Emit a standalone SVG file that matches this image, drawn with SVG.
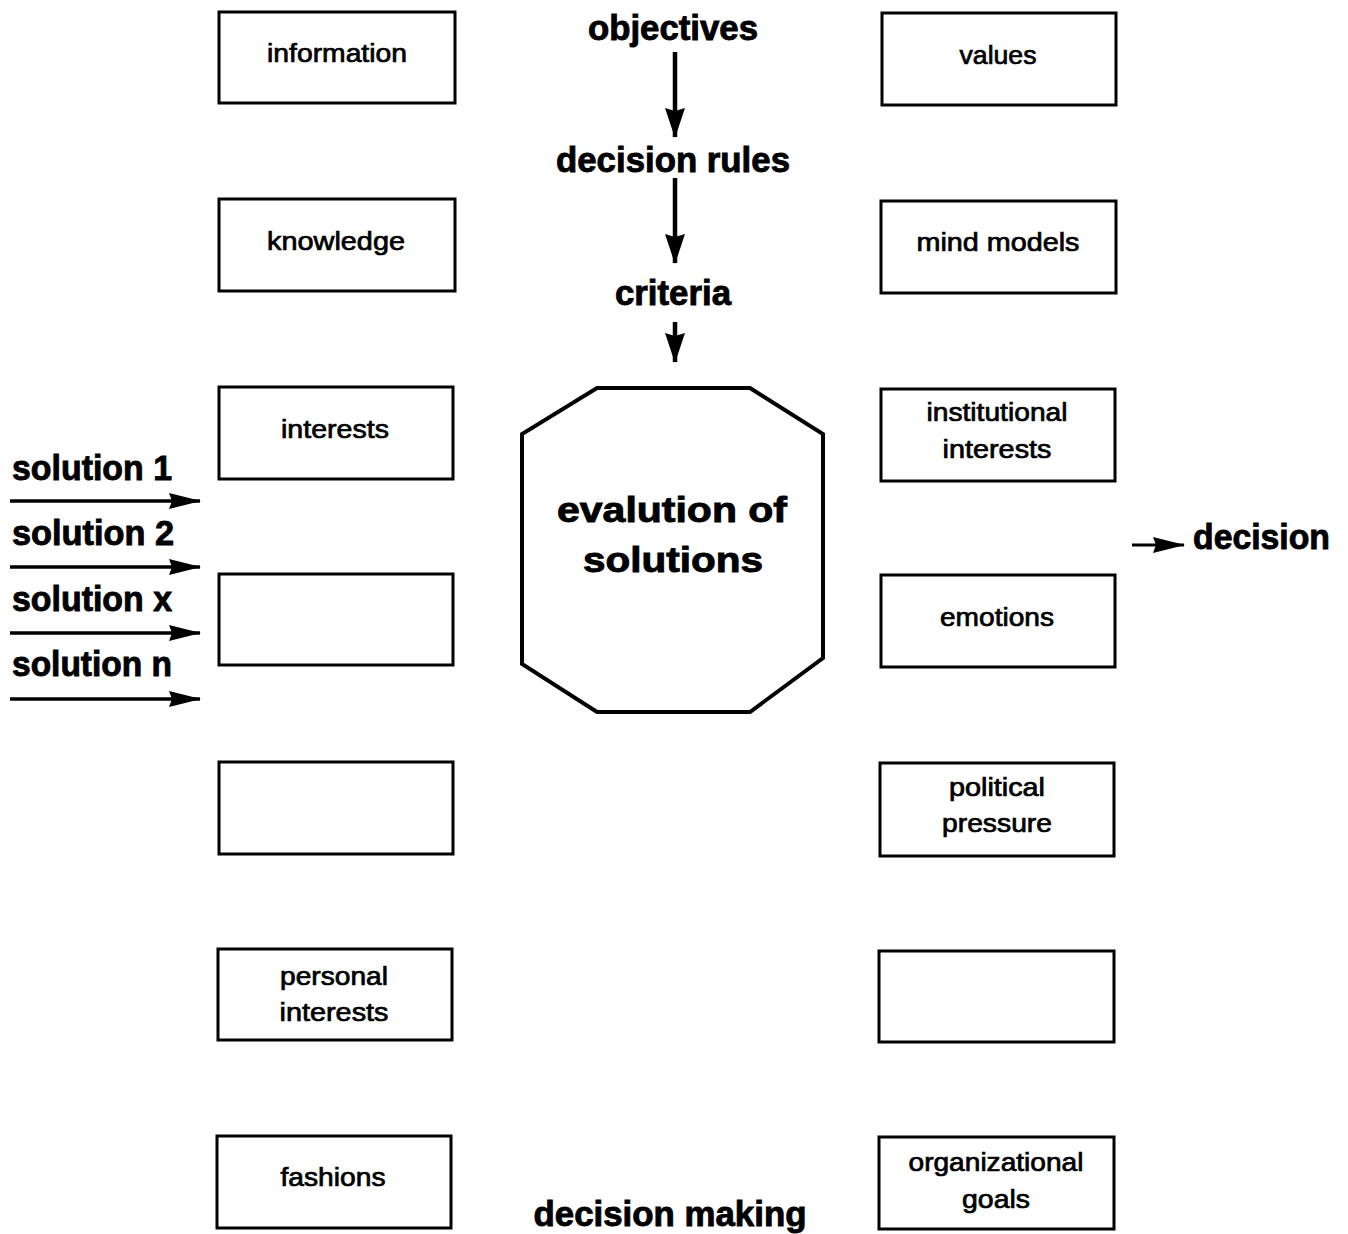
<svg xmlns="http://www.w3.org/2000/svg" width="1348" height="1234" viewBox="0 0 1348 1234">
  <style>
    .box { fill: #fff; stroke: #000; stroke-width: 3; }
    .lbl { font-family: "Liberation Sans", Arial, sans-serif; font-size: 25px; fill: #000; stroke: #000; stroke-width: 0.7; text-anchor: middle; }
    .big { font-family: "Liberation Sans", Arial, sans-serif; font-weight: bold; font-size: 35px; fill: #000; stroke: #000; stroke-width: 0.9; }
    .mid { text-anchor: middle; }
    .wire { fill: none; stroke: #000; }
  </style>
  <defs>
    <marker id="headBig" markerUnits="userSpaceOnUse" viewBox="0 0 30 22" markerWidth="30" markerHeight="22" refX="29" refY="11" orient="auto">
      <path d="M0,1 L30,11 L0,21 L3,11 z" fill="#000"/>
    </marker>
    <marker id="headSmall" markerUnits="userSpaceOnUse" viewBox="0 0 32 18" markerWidth="32" markerHeight="18" refX="31" refY="9" orient="auto">
      <path d="M0,1 L32,9 L0,17 L3,9 z" fill="#000"/>
    </marker>
  </defs>

  <rect width="1348" height="1234" fill="#fff"/>

  <!-- left column -->
  <g id="information"><rect class="box" x="219" y="12" width="236" height="91"/><text class="lbl" x="337" y="62" textLength="140" lengthAdjust="spacingAndGlyphs">information</text></g>
  <g id="knowledge"><rect class="box" x="219" y="199" width="236" height="92"/><text class="lbl" x="336" y="250" textLength="138" lengthAdjust="spacingAndGlyphs">knowledge</text></g>
  <g id="interests"><rect class="box" x="219" y="387" width="234" height="92"/><text class="lbl" x="335" y="438" textLength="108" lengthAdjust="spacingAndGlyphs">interests</text></g>
  <g id="blank-left-1"><rect class="box" x="219" y="574" width="234" height="91"/></g>
  <g id="blank-left-2"><rect class="box" x="219" y="762" width="234" height="92"/></g>
  <g id="personal-interests"><rect class="box" x="218" y="949" width="234" height="91"/><text class="lbl" x="334" y="985" textLength="108" lengthAdjust="spacingAndGlyphs">personal</text><text class="lbl" x="334" y="1021" textLength="109" lengthAdjust="spacingAndGlyphs">interests</text></g>
  <g id="fashions"><rect class="box" x="217" y="1136" width="234" height="92"/><text class="lbl" x="333" y="1186" textLength="105" lengthAdjust="spacingAndGlyphs">fashions</text></g>

  <!-- right column -->
  <g id="values"><rect class="box" x="882" y="13" width="234" height="92"/><text class="lbl" x="998" y="64" textLength="77" lengthAdjust="spacingAndGlyphs">values</text></g>
  <g id="mind-models"><rect class="box" x="881" y="201" width="235" height="92"/><text class="lbl" x="998" y="251" textLength="163" lengthAdjust="spacingAndGlyphs">mind models</text></g>
  <g id="institutional-interests"><rect class="box" x="881" y="389" width="234" height="92"/><text class="lbl" x="997" y="421" textLength="141" lengthAdjust="spacingAndGlyphs">institutional</text><text class="lbl" x="997" y="458" textLength="109" lengthAdjust="spacingAndGlyphs">interests</text></g>
  <g id="emotions"><rect class="box" x="881" y="575" width="234" height="92"/><text class="lbl" x="997" y="626" textLength="114" lengthAdjust="spacingAndGlyphs">emotions</text></g>
  <g id="political-pressure"><rect class="box" x="880" y="763" width="234" height="93"/><text class="lbl" x="997" y="796" textLength="96" lengthAdjust="spacingAndGlyphs">political</text><text class="lbl" x="997" y="832" textLength="110" lengthAdjust="spacingAndGlyphs">pressure</text></g>
  <g id="blank-right"><rect class="box" x="879" y="951" width="235" height="91"/></g>
  <g id="organizational-goals"><rect class="box" x="879" y="1137" width="235" height="92"/><text class="lbl" x="996" y="1171" textLength="175" lengthAdjust="spacingAndGlyphs">organizational</text><text class="lbl" x="996" y="1208" textLength="68" lengthAdjust="spacingAndGlyphs">goals</text></g>

  <!-- centre chain -->
  <g id="objectives"><text class="big mid" x="673" y="40" textLength="170" lengthAdjust="spacingAndGlyphs">objectives</text></g>
  <g id="decision-rules"><text class="big mid" x="673" y="172" textLength="234" lengthAdjust="spacingAndGlyphs">decision rules</text></g>
  <g id="criteria"><text class="big mid" x="673" y="305" textLength="116" lengthAdjust="spacingAndGlyphs">criteria</text></g>
  <g id="evaluation">
    <polygon points="597,388 750,388 823,434 823,658 750,712 597,712 522,664 522,434" fill="#fff" stroke="#000" stroke-width="4"/>
    <text class="big mid" x="672" y="522" font-size="38" textLength="230" lengthAdjust="spacingAndGlyphs">evalution of</text>
    <text class="big mid" x="673" y="572" font-size="38" textLength="180" lengthAdjust="spacingAndGlyphs">solutions</text>
  </g>

  <!-- inputs and output -->
  <g id="solution-1"><text class="big" x="12" y="480" textLength="160" lengthAdjust="spacingAndGlyphs">solution 1</text></g>
  <g id="solution-2"><text class="big" x="12" y="545" textLength="162" lengthAdjust="spacingAndGlyphs">solution 2</text></g>
  <g id="solution-x"><text class="big" x="12" y="611" textLength="160" lengthAdjust="spacingAndGlyphs">solution x</text></g>
  <g id="solution-n"><text class="big" x="12" y="676" textLength="160" lengthAdjust="spacingAndGlyphs">solution n</text></g>
  <g id="decision"><text class="big" x="1193" y="549" textLength="137" lengthAdjust="spacingAndGlyphs">decision</text></g>

  <g id="caption"><text class="big mid" x="670" y="1226" textLength="273" lengthAdjust="spacingAndGlyphs">decision making</text></g>

  <!-- connectors -->
  <g id="connectors">
    <line class="wire" x1="675" y1="52" x2="675" y2="137" stroke-width="4.5" marker-end="url(#headBig)"/>
    <line class="wire" x1="675" y1="178" x2="675" y2="263" stroke-width="4.5" marker-end="url(#headBig)"/>
    <line class="wire" x1="675" y1="322" x2="675" y2="362" stroke-width="4.5" marker-end="url(#headBig)"/>
    <line class="wire" x1="10" y1="501" x2="200" y2="501" stroke-width="3.5" marker-end="url(#headSmall)"/>
    <line class="wire" x1="10" y1="567" x2="200" y2="567" stroke-width="3.5" marker-end="url(#headSmall)"/>
    <line class="wire" x1="10" y1="633" x2="200" y2="633" stroke-width="3.5" marker-end="url(#headSmall)"/>
    <line class="wire" x1="10" y1="699" x2="200" y2="699" stroke-width="3.5" marker-end="url(#headSmall)"/>
    <line class="wire" x1="1132" y1="545" x2="1184" y2="545" stroke-width="3" marker-end="url(#headSmall)"/>
  </g>
</svg>
